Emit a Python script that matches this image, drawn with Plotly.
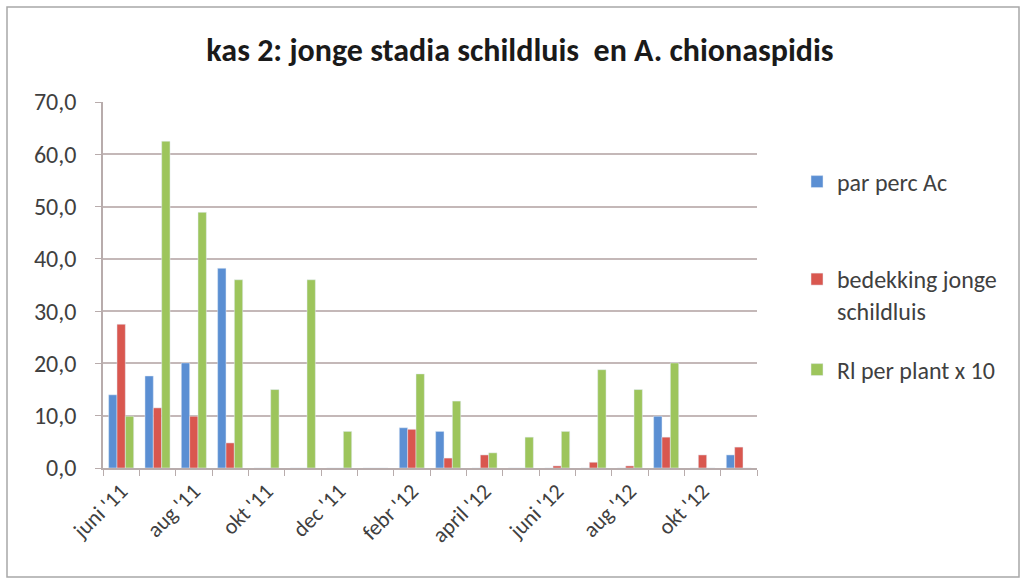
import plotly.graph_objects as go

months = ["juni '11", "juli '11", "aug '11", "sept '11", "okt '11", "nov '11",
          "dec '11", "jan '12", "febr '12", "maart '12", "april '12", "mei '12",
          "juni '12", "juli '12", "aug '12", "sept '12", "okt '12", "nov '12"]
tick_labels = ["juni '11", "", "aug '11", "", "okt '11", "", "dec '11", "",
               "febr '12", "", "april '12", "", "juni '12", "", "aug '12", "",
               "okt '12", ""]

par_perc_ac = [14.0, 17.6, 20.1, 38.2, 0, 0, 0, 0, 7.7, 7.0, 0, 0, 0, 0, 0, 9.9, 0, 2.5]
bedekking = [27.5, 11.5, 9.9, 4.8, 0, 0, 0, 0, 7.4, 1.9, 2.5, 0, 0.4, 1.1, 0.4, 5.9, 2.5, 4.0]
rl_per_plant = [9.9, 62.5, 48.9, 36.0, 15.0, 36.0, 7.0, 0, 18.0, 12.8, 2.9, 5.9, 7.0, 18.8, 15.0, 20.1, 0, 0]

FONT = "Carlito, Calibri, Lato, sans-serif"
W, H = 1023, 580
ML, MR, MT, MB = 103, 266, 102, 112
PW = W - ML - MR
PH = H - MT - MB

fig = go.Figure()
fig.add_trace(go.Bar(x=months, y=par_perc_ac, name="par perc Ac",
                     marker_color="#5b8fd3", legend="legend", showlegend=True))
fig.add_trace(go.Bar(x=months, y=bedekking, name="bedekking jonge<br>schildluis",
                     marker_color="#d9574f", legend="legend2", showlegend=True))
fig.add_trace(go.Bar(x=months, y=rl_per_plant, name="Rl per plant x 10",
                     marker_color="#9dc55c", legend="legend3", showlegend=True))

def px_to_paper_x(px):
    return (px - ML) / PW

def px_to_paper_y(py):
    return (H - MB - py) / PH

leg_common = dict(font=dict(family=FONT, size=24, color="#404040"),
                  bgcolor="rgba(0,0,0,0)", xanchor="left", yanchor="middle",
                  itemwidth=30, valign="top")

fig.update_layout(
    width=W, height=H,
    margin=dict(l=ML, r=MR, t=MT, b=MB),
    paper_bgcolor="white", plot_bgcolor="white",
    separators=",.",
    showlegend=True,
    barmode="group", bargap=0.31, bargroupgap=0,
    title=dict(text="<b>kas 2: jonge stadia schildluis  en A. chionaspidis</b>",
               x=520 / W, xanchor="center", y=1 - 50 / H, yanchor="middle",
               font=dict(family=FONT, size=32, color="#1a1a1a")),
    font=dict(family=FONT, color="#404040"),
    legend=dict(x=px_to_paper_x(797), y=px_to_paper_y(182), **leg_common),
    legend2=dict(x=px_to_paper_x(797), y=px_to_paper_y(295), **leg_common),
    legend3=dict(x=px_to_paper_x(797), y=px_to_paper_y(370), **leg_common),
    xaxis=dict(type="category", tickmode="array", tickvals=months, ticktext=tick_labels,
               tickson="boundaries", ticks="outside", ticklen=6, tickcolor="#b8acac",
               tickangle=-45, showline=True, linecolor="#b8acac", linewidth=1.5,
               showgrid=False, tickfont=dict(family=FONT, size=22, color="#404040")),
    yaxis=dict(range=[0, 70], dtick=10, tickformat=".1f", ticks="outside", ticklen=6,
               tickcolor="#b8acac", showline=True, linecolor="#b8acac", linewidth=1.5,
               showgrid=True, gridcolor="#c4b8b8", gridwidth=1.5, zeroline=False,
               ticklabelstandoff=14,
               tickfont=dict(family=FONT, size=24, color="#404040")),
    shapes=[dict(type="rect", xref="paper", yref="paper",
                 x0=px_to_paper_x(7), x1=px_to_paper_x(1019),
                 y0=px_to_paper_y(577), y1=px_to_paper_y(7),
                 line=dict(color="#a8a8a8", width=1.5), fillcolor="rgba(0,0,0,0)",
                 layer="below")],
)

fig.write_html("out.html", config={"displayModeBar": False},
               post_script="document.body.style.margin='0';")
